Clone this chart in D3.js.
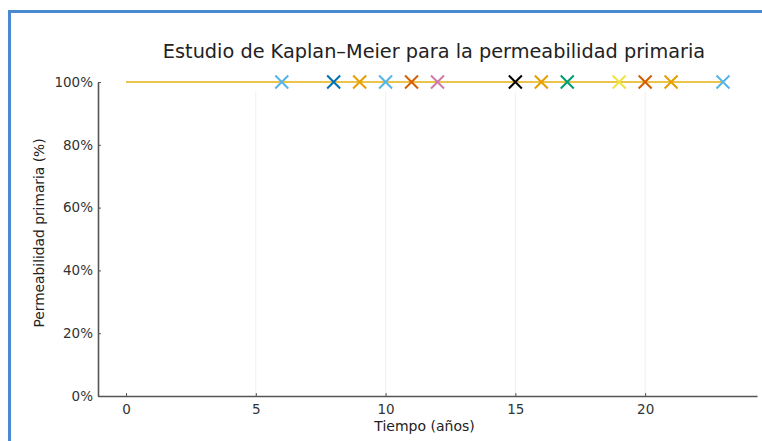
<!DOCTYPE html>
<html><head><meta charset="utf-8">
<script src="https://cdn.jsdelivr.net/npm/d3@7"></script>
<style>
html,body{margin:0;padding:0;background:#fff;}
svg{display:block;font-family:"DejaVu Sans",sans-serif;}
</style></head>
<body>
<svg id="c" width="762" height="441"></svg>
<script>
const curveTimes = [0, 23];
const curveValues = [1, 1];
const censorTimes = [6, 8, 9, 10, 11, 12, 15, 16, 17, 19, 20, 21, 23];
const censorValues = [1, 1, 1, 1, 1, 1, 1, 1, 1, 1, 1, 1, 1];
const censorColors = ["#56B4E9","#0072B2","#E69F00","#56B4E9","#D55E00","#CC79A7","#000000","#E69F00","#009E73","#F0E442","#D55E00","#E69F00","#56B4E9"];
const xTicks = [0, 5, 10, 15, 20];
const yTicks = [0, 0.2, 0.4, 0.6, 0.8, 1.0];
const titleText = "Estudio de Kaplan–Meier para la permeabilidad primaria";
const xLabel = "Tiempo (años)";
const yLabel = "Permeabilidad primaria (%)";

const svg = d3.select("#c");
// frame border (blue)
svg.append("line").attr("x1",9.5).attr("x2",9.5).attr("y1",10).attr("y2",441).attr("stroke","#4a88cf").attr("stroke-width",3);
svg.append("line").attr("x1",8).attr("x2",762).attr("y1",11.5).attr("y2",11.5).attr("stroke","#4a88cf").attr("stroke-width",3);

const L = 98, R = 757, T = 82, B = 396;
const x = d3.scaleLinear().domain([-1.08, 24.31]).range([L, R]);
const y = d3.scaleLinear().domain([0, 1]).range([B, T]);

// faint grid
svg.append("g").selectAll("line").data(xTicks.filter(d=>d>0)).join("line")
  .attr("x1",d=>x(d)).attr("x2",d=>x(d)).attr("y1",T+10).attr("y2",B)
  .attr("stroke","#f0f0f0").attr("stroke-width",1);

// axes
const xa = svg.append("g").attr("transform",`translate(0,${B})`)
  .call(d3.axisBottom(x).tickValues(xTicks).tickFormat(d3.format("d")).tickSizeInner(-3).tickSizeOuter(0).tickPadding(8));
const ya = svg.append("g").attr("transform",`translate(${L},0)`)
  .call(d3.axisLeft(y).tickValues(yTicks).tickFormat(d3.format(".0%")).tickSizeInner(-3).tickSizeOuter(0).tickPadding(5));
[xa, ya].forEach(g => {
  g.select(".domain").attr("stroke","#555").attr("stroke-width",1.6);
  g.selectAll(".tick line").attr("stroke","#555").attr("stroke-width",1);
  g.selectAll(".tick text").attr("fill","#333").style("font-size","13.5px").style("font-family","DejaVu Sans");
});

// KM curve
svg.append("path").datum(curveTimes.map((t,i)=>[t,curveValues[i]]))
  .attr("d", d3.line().x(d=>x(d[0])).y(d=>y(d[1])).curve(d3.curveStepAfter))
  .attr("fill","none").attr("stroke","#E6B010").attr("stroke-width",1.5);

// censor markers
const s = 6.5;
svg.append("g").selectAll("path").data(censorTimes.map((t,i)=>({t, v:censorValues[i], c:censorColors[i]}))).join("path")
  .attr("d", d => {const cx=x(d.t), cy=y(d.v); return `M${cx-s},${cy-s}L${cx+s},${cy+s}M${cx-s},${cy+s}L${cx+s},${cy-s}`;})
  .attr("stroke", d=>d.c).attr("stroke-width",2).attr("fill","none");

// title & labels
svg.append("text").attr("x",434).attr("y",58).attr("text-anchor","middle")
  .style("font-size","19.3px").attr("fill","#222").text(titleText);
svg.append("text").attr("x",(L+R)/2 - 3).attr("y",431).attr("text-anchor","middle")
  .style("font-size","14px").attr("fill","#222").text(xLabel);
svg.append("text").attr("transform",`translate(44,${(T+B)/2 - 6}) rotate(-90)`).attr("text-anchor","middle")
  .style("font-size","13.8px").attr("fill","#222").text(yLabel);
</script>
</body></html>
